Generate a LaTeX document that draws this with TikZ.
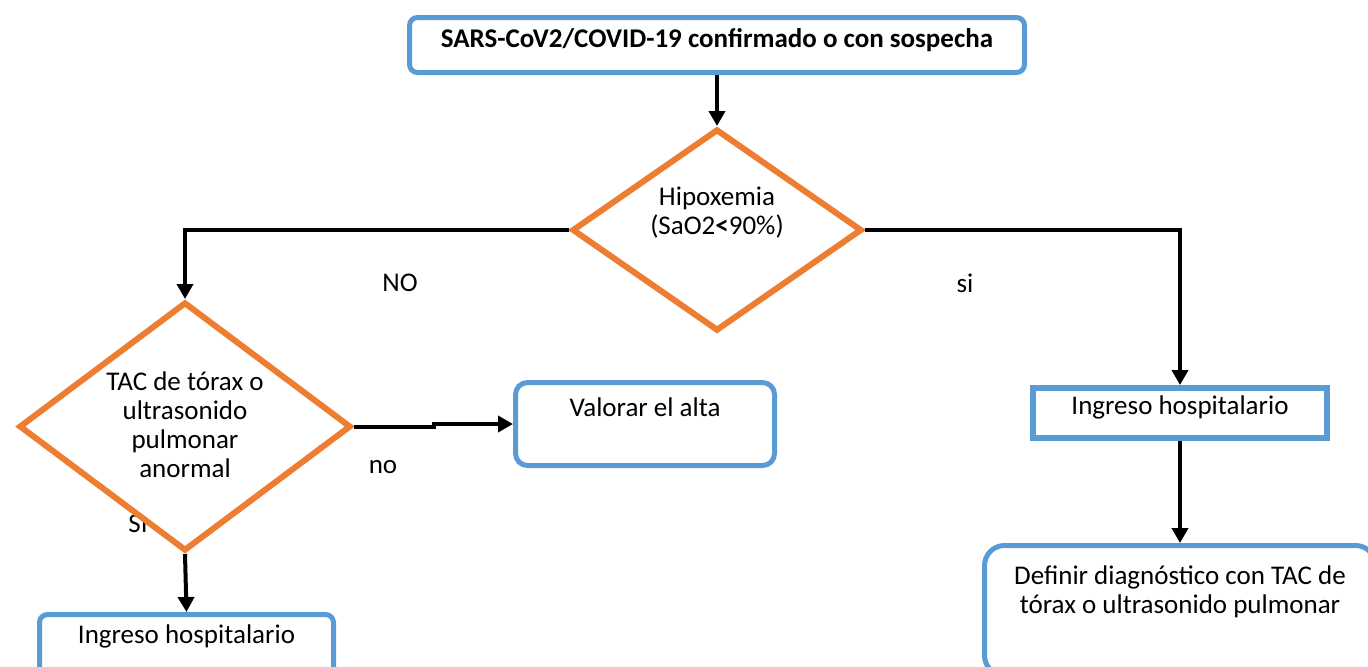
\documentclass[tikz,border=0pt]{standalone}
\usepackage{fontspec}
\setmainfont{Carlito}
\usetikzlibrary{shapes.geometric,arrows.meta}
\definecolor{bblue}{HTML}{5B9BD5}
\definecolor{borange}{HTML}{ED7D31}
\begin{document}
\begin{tikzpicture}[x=0.5pt,y=-0.5pt,
  every node/.style={font=\fontsize{13.5}{14.5}\selectfont, inner sep=0pt},
  bbox/.style={draw=bblue, line width=2.5pt, rounded corners=4pt, fill=white},
  sqbox/.style={draw=bblue, line width=3pt, fill=white},
  dmd/.style={diamond, draw=borange, line width=3pt, fill=white, shape aspect=1.4},
  conn/.style={line width=2pt, -{Triangle[length=7.5pt,width=8pt]}},
  txt/.style={align=center}]
\useasboundingbox (0,0) rectangle (1368,666);

% hidden label behind the lower-left diamond
\node (silbl) at (138,524) {SI};

% boxes
\node[bbox, minimum width=307.5pt, minimum height=27.5pt] (top) at (717,45) {};
\node[txt, font=\fontsize{13.5}{14.5}\selectfont\bfseries] (toptxt) at (717,40) {SARS-CoV2/COVID-19 confirmado o con sospecha};

\node[dmd, minimum width=145pt, minimum height=101pt] (d1) at (717,230) {};
\node[txt] (d1txt) at (717,213) {Hipoxemia\\(SaO2\textbf{<}90\%)};

\node[dmd, minimum width=166pt, minimum height=124.5pt] (d2) at (185,426.5) {};
\node[txt] (d2txt) at (185,425) {TAC de tórax o\\ultrasonido\\pulmonar\\anormal};

\node[bbox, rounded corners=6pt, minimum width=129.5pt, minimum height=41.5pt] (val) at (645,424) {};
\node[txt] (valtxt) at (645,407) {Valorar el alta};

\node[bbox, minimum width=147pt, minimum height=30pt] (ingl) at (186.5,644.5) {};
\node[txt] (ingltxt) at (186.5,636) {Ingreso hospitalario};

\node[sqbox, minimum width=147pt, minimum height=25pt] (ingr) at (1180,413) {};
\node[txt] (ingrtxt) at (1180,407) {Ingreso hospitalario};

\node[bbox, rounded corners=10pt, minimum width=195.5pt, minimum height=65pt] (def) at (1180,610.5) {};
\node[txt] (deftxt) at (1180,591.5) {Definir diagnóstico con TAC de\\tórax o ultrasonido pulmonar};

% labels
\node (nolbl) at (400,283) {NO};
\node (silbl2) at (965,283) {si};
\node (nolbl2) at (383,467) {no};

% connectors
\draw[conn] (top.south) -- (d1.north);
\draw[conn] (d1.west) -| (d2.north);
\draw[conn] (d1.east) -| (ingr.north);
\draw[conn] (d2.east) -- ++(80,0) |- (val.west);
\draw[conn] (d2.south) -- (ingl.north);
\draw[conn] (ingr.south) -- (def.north);
\end{tikzpicture}
\end{document}
